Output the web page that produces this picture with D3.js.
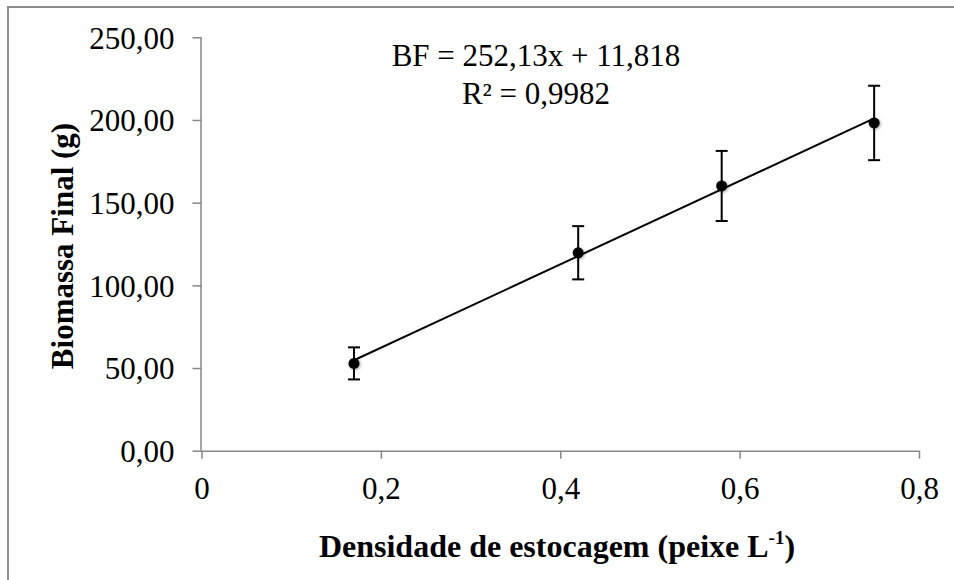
<!DOCTYPE html>
<html>
<head>
<meta charset="utf-8">
<script src="https://cdn.jsdelivr.net/npm/d3@7"></script>
<style>
  html, body { margin: 0; padding: 0; background: #fff; }
  svg { display: block; font-family: "Liberation Serif", "Times New Roman", serif; }
</style>
</head>
<body>
<svg id="chart" width="954" height="580"></svg>
<script>
// ---- data ----
const density = [0.17, 0.42, 0.58, 0.75];
const biomass = [52.8, 119.7, 160.1, 198.2];
const errors  = [9.7, 16.1, 21.2, 22.5];
const xTicks = [0, 0.2, 0.4, 0.6, 0.8];
const yTicks = [0, 50, 100, 150, 200, 250];
const slope = 252.13, intercept = 11.818;
const eqLines = ["BF = 252,13x + 11,818", "R² = 0,9982"];
const xTitle = "Densidade de estocagem (peixe L";
const yTitle = "Biomassa Final (g)";

const svg = d3.select("#chart");
const W = 954, H = 580;

const x = d3.scaleLinear().domain([0, 0.8]).range([201.5, 919]);
const y = d3.scaleLinear().domain([0, 250]).range([450.7, 37.3]);

const fmtX = v => v === 0 ? "0" : d3.format(".1f")(v).replace(".", ",");
const fmtY = v => d3.format(".2f")(v).replace(".", ",");

// shadow filter
const defs = svg.append("defs");
const f = defs.append("filter").attr("id", "sh").attr("x", "-50%").attr("y", "-50%").attr("width", "200%").attr("height", "200%");
f.append("feDropShadow").attr("dx", 1).attr("dy", 1).attr("stdDeviation", 1.5).attr("flood-color", "#000").attr("flood-opacity", 0.35);

// outer border
svg.append("path")
  .attr("d", `M8,${H + 5} L8,7 L${W + 5},7`)
  .attr("fill", "none").attr("stroke", "#8e8e8e").attr("stroke-width", 2);

const axisColor = "#878787";

// y axis
const yAxis = svg.append("g").attr("transform", `translate(${x(0)},0)`)
  .call(d3.axisLeft(y).tickValues(yTicks).tickFormat(fmtY).tickSize(9).tickPadding(19));
// x axis
const xAxis = svg.append("g").attr("transform", `translate(0,${y(0)})`)
  .call(d3.axisBottom(x).tickValues(xTicks).tickFormat(fmtX).tickSize(8).tickPadding(18));

[yAxis, xAxis].forEach(g => {
  g.select(".domain").attr("stroke", axisColor).attr("stroke-width", 1.5);
  g.selectAll(".tick line").attr("stroke", axisColor).attr("stroke-width", 1.5);
  g.selectAll(".tick text").attr("fill", "#000")
    .style("font-family", "'Liberation Serif', 'Times New Roman', serif")
    .style("font-size", "31px");
});
xAxis.select(".domain").attr("d", `M${x(0)},0.5H${x(0.8)}`);
yAxis.select(".domain").attr("d", `M-0.5,${y(250)}V${y(0)}`);
yAxis.selectAll(".tick text").attr("x", -27).attr("dy", "0.35em");
xAxis.selectAll(".tick text").attr("dy", "0.72em");

// trend line
const lx0 = d3.min(density), lx1 = d3.max(density);
svg.append("line")
  .attr("x1", x(lx0)).attr("y1", y(slope * lx0 + intercept))
  .attr("x2", x(lx1)).attr("y2", y(slope * lx1 + intercept))
  .attr("stroke", "#000").attr("stroke-width", 2);

// error bars
const eb = svg.append("g").attr("stroke", "#000").attr("stroke-width", 2);
density.forEach((d, i) => {
  const cx = x(d), top = y(biomass[i] + errors[i]), bot = y(biomass[i] - errors[i]);
  eb.append("line").attr("x1", cx).attr("x2", cx).attr("y1", top).attr("y2", bot);
  eb.append("line").attr("x1", cx - 6).attr("x2", cx + 6).attr("y1", top).attr("y2", top);
  eb.append("line").attr("x1", cx - 6).attr("x2", cx + 6).attr("y1", bot).attr("y2", bot);
});

// points
svg.append("g").selectAll("circle").data(density).join("circle")
  .attr("cx", d => x(d)).attr("cy", (d, i) => y(biomass[i]))
  .attr("r", 5.5).attr("fill", "#000").attr("filter", "url(#sh)");

// equation
svg.append("g").selectAll("text").data(eqLines).join("text")
  .attr("x", 536).attr("y", (d, i) => 66 + i * 38)
  .attr("text-anchor", "middle").attr("font-size", 31).attr("fill", "#000")
  .text(d => d);

// x title
const xt = svg.append("text").attr("x", 557).attr("y", 557).attr("text-anchor", "middle")
  .attr("font-size", 32).attr("font-weight", "bold").attr("fill", "#000");
xt.append("tspan").text(xTitle);
xt.append("tspan").attr("font-size", 19).attr("dy", -13).text("-1");
xt.append("tspan").attr("dy", 13).text(")");

// y title
svg.append("text").attr("transform", "translate(73,246) rotate(-90)")
  .attr("text-anchor", "middle").attr("font-size", 31).attr("font-weight", "bold").attr("fill", "#000")
  .text(yTitle);
</script>
</body>
</html>
